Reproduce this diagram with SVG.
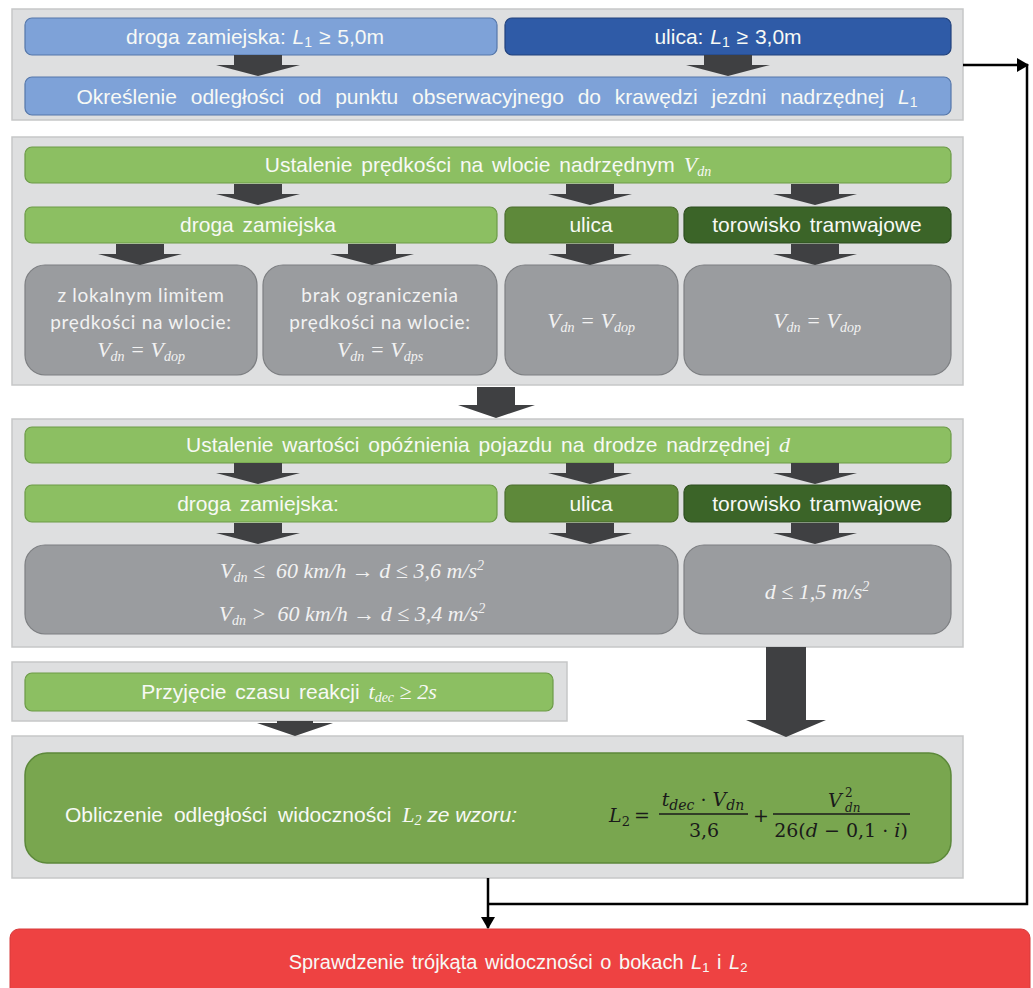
<svg xmlns="http://www.w3.org/2000/svg" xmlns:xlink="http://www.w3.org/1999/xlink" width="1033" height="988" viewBox="0 0 1033 988">
<defs>
<style>
.panel{fill:#dedfe0;stroke:#c6c7c8;stroke-width:1.5}
.lb{fill:#7ea2d8;stroke:#5577aa;stroke-width:1.2}
.db{fill:#2f5ba7;stroke:#22427c;stroke-width:1.2}
.lg{fill:#8cbf62;stroke:#6c9b47;stroke-width:1.2}
.mg{fill:#5e893a;stroke:#4a6d2d;stroke-width:1.2}
.dg{fill:#3b6428;stroke:#2c4d1e;stroke-width:1.2}
.gb{fill:#9a9c9f;stroke:#7d7f82;stroke-width:1.2}
.fg{fill:#79a64f;stroke:#5c883a;stroke-width:1.5}
.red{fill:#ee4242;stroke:#d63a3a;stroke-width:1}
.ba{fill:#3f4042}
.t{font-family:"Liberation Sans",Arial,sans-serif;font-size:21px;fill:#f7f9f5;text-anchor:middle;word-spacing:3px}
.c{font-family:Lato,"Open Sans",sans-serif;font-size:19px;fill:#f2f2f2;text-anchor:middle;letter-spacing:0.7px}
.m{font-family:"Liberation Serif","Times New Roman",serif;font-style:italic;font-size:22px;fill:#f2f2f2;text-anchor:middle}
.s{font-family:"Liberation Serif","Times New Roman",serif;font-style:italic}
.f{font-family:"DejaVu Serif","Liberation Serif",serif;font-size:19px;fill:#1a1a1a}
.i{font-style:italic}
.conn{fill:none;stroke:#000;stroke-width:2.5}
</style>
<path id="sa" d="M-24,0 H24 V10 H42 L0,21 L-42,10 H-24 Z"/>
<marker id="ah" markerWidth="12" markerHeight="14" refX="11" refY="7" orient="auto" markerUnits="userSpaceOnUse">
<path d="M0,0 L12,7 L0,14 Z" fill="#000"/>
</marker>
</defs>

<!-- Panel 1 -->
<g id="panel1">
<rect class="panel" x="12" y="9" width="951" height="111"/>
<g id="n-droga1"><rect class="lb" x="25" y="18" width="472" height="37" rx="7"/>
<text class="t" x="255" y="44" style="word-spacing:1px">droga zamiejska: <tspan class="i">L</tspan><tspan font-size="14" dy="3">1</tspan><tspan dy="-3"> ≥ 5,0m</tspan></text></g>
<g id="n-ulica1"><rect class="db" x="505" y="18" width="446" height="37" rx="7"/>
<text class="t" x="728" y="44" style="word-spacing:1px">ulica: <tspan class="i">L</tspan><tspan font-size="14" dy="3">1</tspan><tspan dy="-3"> ≥ 3,0m</tspan></text></g>
<g id="n-okreslenie"><rect class="lb" x="25" y="77" width="926" height="38" rx="7"/>
<text class="t" x="497" y="104" style="word-spacing:8px">Określenie odległości od punktu obserwacyjnego do krawędzi jezdni nadrzędnej <tspan class="i">L</tspan><tspan font-size="14" dy="3">1</tspan></text></g>
</g>

<!-- Panel 2 -->
<g id="panel2">
<rect class="panel" x="12" y="137" width="951" height="248"/>
<g id="n-predkosc"><rect class="lg" x="25" y="147" width="926" height="36" rx="7"/>
<text class="t" x="488" y="172">Ustalenie prędkości na wlocie nadrzędnym <tspan class="s" font-size="22">V</tspan><tspan class="s" font-size="14" dy="4">dn</tspan></text></g>
<g id="n-droga2"><rect class="lg" x="25" y="207" width="472" height="36" rx="7"/>
<text class="t" x="258" y="232">droga zamiejska</text></g>
<g id="n-ulica2"><rect class="mg" x="505" y="207" width="173" height="36" rx="7"/>
<text class="t" x="591" y="232">ulica</text></g>
<g id="n-tor2"><rect class="dg" x="684" y="207" width="267" height="36" rx="7"/>
<text class="t" x="817" y="232">torowisko tramwajowe</text></g>
<g id="n-lokalny"><rect class="gb" x="25" y="265" width="232" height="110" rx="20"/>
<text class="c" x="141" y="302">z lokalnym limitem</text>
<text class="c" x="141" y="329">prędkości na wlocie:</text>
<text class="m" x="141" y="357">V<tspan font-size="14" dy="4">dn</tspan><tspan dy="-4"> = V</tspan><tspan font-size="14" dy="4">dop</tspan></text></g>
<g id="n-brak"><rect class="gb" x="263" y="265" width="234" height="110" rx="20"/>
<text class="c" x="380" y="302">brak ograniczenia</text>
<text class="c" x="380" y="329">prędkości na wlocie:</text>
<text class="m" x="380" y="357">V<tspan font-size="14" dy="4">dn</tspan><tspan dy="-4"> = V</tspan><tspan font-size="14" dy="4">dps</tspan></text></g>
<g id="n-ulicav"><rect class="gb" x="505" y="265" width="173" height="110" rx="20"/>
<text class="m" x="591" y="328">V<tspan font-size="14" dy="4">dn</tspan><tspan dy="-4"> = V</tspan><tspan font-size="14" dy="4">dop</tspan></text></g>
<g id="n-torv"><rect class="gb" x="684" y="265" width="267" height="110" rx="20"/>
<text class="m" x="817" y="328">V<tspan font-size="14" dy="4">dn</tspan><tspan dy="-4"> = V</tspan><tspan font-size="14" dy="4">dop</tspan></text></g>
</g>

<!-- Panel 3 -->
<g id="panel3">
<rect class="panel" x="12" y="419" width="951" height="228"/>
<g id="n-opoznienie"><rect class="lg" x="25" y="427" width="926" height="36" rx="7"/>
<text class="t" x="488" y="452">Ustalenie wartości opóźnienia pojazdu na drodze nadrzędnej <tspan class="s" font-size="22">d</tspan></text></g>
<g id="n-droga3"><rect class="lg" x="25" y="485" width="472" height="37" rx="7"/>
<text class="t" x="258" y="511">droga zamiejska:</text></g>
<g id="n-ulica3"><rect class="mg" x="505" y="485" width="173" height="37" rx="7"/>
<text class="t" x="591" y="511">ulica</text></g>
<g id="n-tor3"><rect class="dg" x="684" y="485" width="267" height="37" rx="7"/>
<text class="t" x="817" y="511">torowisko tramwajowe</text></g>
<g id="n-dzam"><rect class="gb" x="25" y="545" width="653" height="89" rx="20"/>
<text class="m" x="352" y="578" xml:space="preserve">V<tspan font-size="14" dy="4">dn</tspan><tspan dy="-4"> ≤  60 km/h → d ≤ 3,6 m/s</tspan><tspan font-size="14" dy="-8">2</tspan></text>
<text class="m" x="352" y="621" xml:space="preserve">V<tspan font-size="14" dy="4">dn</tspan><tspan dy="-4"> &gt;  60 km/h → d ≤ 3,4 m/s</tspan><tspan font-size="14" dy="-8">2</tspan></text></g>
<g id="n-dtor"><rect class="gb" x="684" y="545" width="267" height="89" rx="20"/>
<text class="m" x="817" y="599">d ≤ 1,5 m/s<tspan font-size="14" dy="-8">2</tspan></text></g>
</g>

<!-- Panel 4 -->
<g id="panel4">
<rect class="panel" x="12" y="662" width="555" height="59"/>
<g id="n-czas"><rect class="lg" x="25" y="673" width="528" height="38" rx="7"/>
<text class="t" x="289" y="699">Przyjęcie czasu reakcji <tspan class="s" font-size="22">t</tspan><tspan class="s" font-size="14" dy="3">dec</tspan><tspan class="s" font-size="22" dy="-3" style="word-spacing:0"> ≥ 2s</tspan></text></g>
</g>

<!-- Panel 5 -->
<g id="panel5">
<rect class="panel" x="12" y="736" width="951" height="142"/>
<g id="n-oblicz"><rect class="fg" x="25" y="753" width="926" height="110" rx="22"/>
<text class="t" x="65" y="822" style="text-anchor:start;word-spacing:5px">Obliczenie odległości widoczności <tspan class="s" font-size="22">L</tspan><tspan class="s" font-size="14" dy="3">2</tspan><tspan class="i" dy="-3" style="word-spacing:0">  ze wzoru:</tspan></text>
<g id="formula">
<text class="f" x="609" y="822"><tspan class="i">L</tspan><tspan font-size="13" dy="4">2</tspan></text>
<text class="f" x="642" y="822" text-anchor="middle">=</text>
<text class="f" x="703" y="806" text-anchor="middle"><tspan class="i">t</tspan><tspan class="i" font-size="14" dy="4">dec</tspan><tspan dy="-4"> · </tspan><tspan class="i">V</tspan><tspan class="i" font-size="14" dy="4">dn</tspan></text>
<line x1="659" y1="814" x2="748" y2="814" stroke="#1a1a1a" stroke-width="1.3"/>
<text class="f" x="704" y="837" text-anchor="middle">3,6</text>
<text class="f" x="761" y="822" text-anchor="middle">+</text>
<text class="f" x="828" y="807"><tspan class="i">V</tspan><tspan font-size="12" x="845" dy="-10">2</tspan><tspan class="i" font-size="12" x="845" dy="15">dn</tspan></text>
<line x1="773" y1="814" x2="910" y2="814" stroke="#1a1a1a" stroke-width="1.3"/>
<text class="f" x="841" y="837" text-anchor="middle">26(<tspan class="i">d</tspan> − 0,1 · <tspan class="i">i</tspan>)</text>
</g></g>
</g>

<!-- Result -->
<g id="n-sprawdzenie">
<rect class="red" x="10" y="929" width="1020" height="70" rx="9"/>
<text class="t" x="518" y="969" style="font-size:20px;word-spacing:2px" fill="#fff">Sprawdzenie trójkąta widoczności o bokach <tspan class="i">L</tspan><tspan font-size="13" dy="3">1</tspan><tspan dy="-3"> i </tspan><tspan class="i">L</tspan><tspan font-size="13" dy="3">2</tspan></text>
</g>

<!-- Connectors -->
<g id="connectors">
<use href="#sa" class="ba" transform="translate(258,55)"/>
<use href="#sa" class="ba" transform="translate(728,55)"/>
<use href="#sa" class="ba" transform="translate(258,184)"/>
<use href="#sa" class="ba" transform="translate(590,184)"/>
<use href="#sa" class="ba" transform="translate(815,184)"/>
<use href="#sa" class="ba" transform="translate(140,244)"/>
<use href="#sa" class="ba" transform="translate(372,244)"/>
<use href="#sa" class="ba" transform="translate(590,244)"/>
<use href="#sa" class="ba" transform="translate(815,244)"/>
<use href="#sa" class="ba" transform="translate(258,463)"/>
<use href="#sa" class="ba" transform="translate(590,463)"/>
<use href="#sa" class="ba" transform="translate(815,463)"/>
<use href="#sa" class="ba" transform="translate(258,523)"/>
<use href="#sa" class="ba" transform="translate(590,523)"/>
<use href="#sa" class="ba" transform="translate(815,523)"/>
<path class="ba" d="M477,387 H515 V405 H535 L496,418 L458,405 H477 Z"/>
<path class="ba" d="M277,721 H313 V723 H333 L295,736 L257,723 H277 Z"/>
<path class="ba" d="M766,647 H806 V720 H826 L786,737 L746,720 H766 Z"/>
<path class="conn" d="M963,65 H1028" marker-end="url(#ah)"/>
<path class="conn" d="M1027,64 V904 H488"/>
<path class="conn" d="M488,878 V928" marker-end="url(#ah)"/>
</g>
</svg>
